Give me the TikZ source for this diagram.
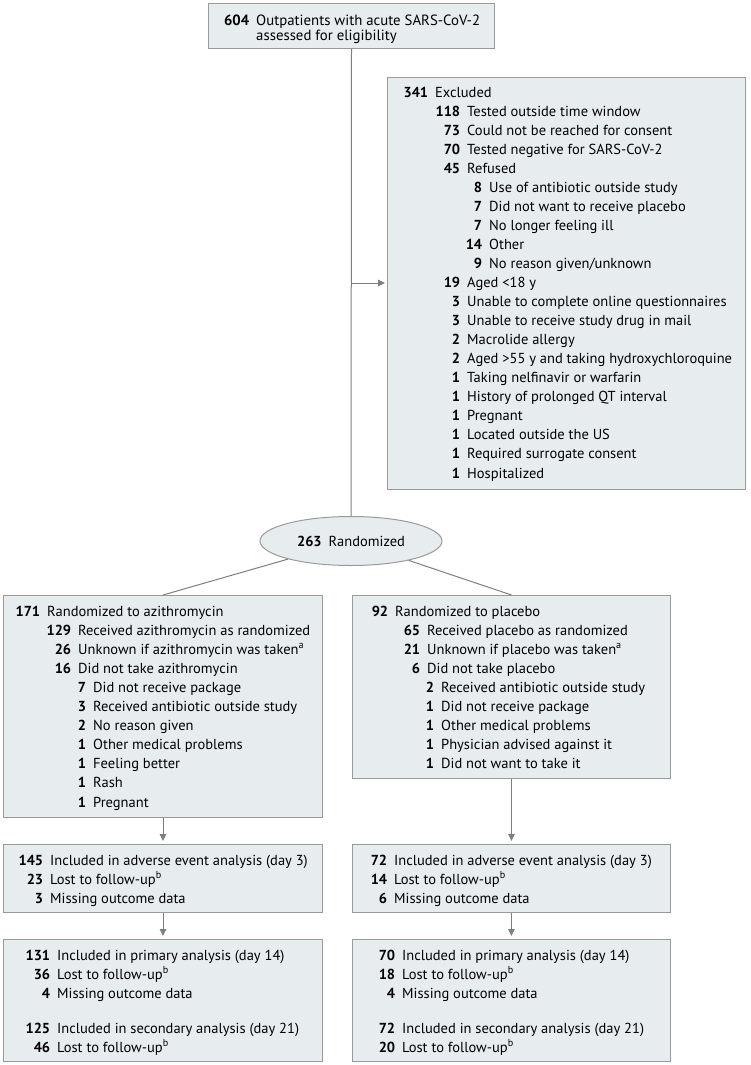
\documentclass[tikz,border=0pt]{standalone}
\usepackage{fontspec}
\setmainfont{PT Sans}
\usetikzlibrary{shapes.geometric,arrows.meta}
\definecolor{boxfill}{HTML}{E7ECEE}
\definecolor{boxline}{HTML}{9A9A9A}
\definecolor{conncol}{HTML}{7F7F7F}
\newcommand\rowl[5]{\node[rowtxt] (#1) at (#2,#3) {\llap{\textbf{#4}\hspace{7pt}}#5};}
\newcommand\boxat[5]{\node[box, anchor=north west, minimum width={#4-#2}, minimum height={#5-#3}] (#1) at (#2,#3) {};}
\begin{document}
\begin{tikzpicture}[x=1pt,y=-1pt,
  box/.style={draw=boxline, fill=boxfill, line width=1pt, rectangle, inner sep=0pt},
  rowtxt/.style={anchor=base west, inner sep=0pt, font=\fontsize{14.5}{19}\selectfont},
  toptxt/.style={rowtxt, font=\fontsize{14.8}{19}\selectfont},
  conn/.style={draw=conncol, line width=1pt},
  arr/.style={conn, -{Triangle[length=7pt,width=6.5pt]}, shorten >=3pt}]
\useasboundingbox (0,0) rectangle (750,1065);

% boxes
\boxat{top}{208}{3}{494}{48}
\boxat{excl}{387}{77}{745}{489}
\boxat{az}{3}{595}{322}{817}
\boxat{pl}{352}{595}{670}{778}
\boxat{aeA}{3}{844}{322}{912}
\boxat{aeP}{352}{844}{670}{912}
\boxat{prA}{3}{939}{322}{1061}
\boxat{prP}{352}{939}{670}{1061}
\node[ellipse, draw=boxline, fill=boxfill, line width=1pt, minimum width=182, minimum height=49, inner sep=0pt,
      font=\fontsize{14.5}{19}\selectfont] (rand) at (351,541) {\textbf{263}\hspace{7pt}Randomized};

% connectors
\coordinate (junc) at (351,283);
\draw[conn] (top.south) -- (rand.north);
\draw[arr, shorten >=2pt] (junc) -- (junc -| excl.west);
\draw[conn] (rand) -- (az.north);
\draw[conn] (rand) -- (pl.north);
\draw[arr] (az.south) -- (aeA.north);
\draw[arr] (pl.south) -- (aeP.north);
\draw[arr] (aeA.south) -- (prA.north);
\draw[arr] (aeP.south) -- (prP.north);

% top text
\node[toptxt] (t1) at (256,25.5) {\llap{\textbf{604}\hspace{7pt}}Outpatients with acute SARS-CoV-2};
\node[toptxt] (t2) at (256,41) {assessed for eligibility};

% excluded
\rowl{e0}{435}{97}{341}{Excluded}
\rowl{e1}{467}{{97+19.05*1}}{118}{Tested outside time window}
\rowl{e2}{467}{{97+19.05*2}}{73}{Could not be reached for consent}
\rowl{e3}{467}{{97+19.05*3}}{70}{Tested negative for SARS-CoV-2}
\rowl{e4}{467}{{97+19.05*4}}{45}{Refused}
\rowl{e5}{489}{{97+19.05*5}}{8}{Use of antibiotic outside study}
\rowl{e6}{489}{{97+19.05*6}}{7}{Did not want to receive placebo}
\rowl{e7}{489}{{97+19.05*7}}{7}{No longer feeling ill}
\rowl{e8}{489}{{97+19.05*8}}{14}{Other}
\rowl{e9}{489}{{97+19.05*9}}{9}{No reason given/unknown}
\rowl{e10}{467}{{97+19.05*10}}{19}{Aged <18 y}
\rowl{e11}{467}{{97+19.05*11}}{3}{Unable to complete online questionnaires}
\rowl{e12}{467}{{97+19.05*12}}{3}{Unable to receive study drug in mail}
\rowl{e13}{467}{{97+19.05*13}}{2}{Macrolide allergy}
\rowl{e14}{467}{{97+19.05*14}}{2}{Aged >55 y and taking hydroxychloroquine}
\rowl{e15}{467}{{97+19.05*15}}{1}{Taking nelfinavir or warfarin}
\rowl{e16}{467}{{97+19.05*16}}{1}{History of prolonged QT interval}
\rowl{e17}{467}{{97+19.05*17}}{1}{Pregnant}
\rowl{e18}{467}{{97+19.05*18}}{1}{Located outside the US}
\rowl{e19}{467}{{97+19.05*19}}{1}{Required surrogate consent}
\rowl{e20}{467}{{97+19.05*20}}{1}{Hospitalized}

% azithromycin
\rowl{a0}{47}{616}{171}{Randomized to azithromycin}
\rowl{a1}{78}{{616+19.1*1}}{129}{Received azithromycin as randomized}
\rowl{a2}{78}{{616+19.1*2}}{26}{Unknown if azithromycin was taken\textsuperscript{a}}
\rowl{a3}{78}{{616+19.1*3}}{16}{Did not take azithromycin}
\rowl{a4}{93}{{616+19.1*4}}{7}{Did not receive package}
\rowl{a5}{93}{{616+19.1*5}}{3}{Received antibiotic outside study}
\rowl{a6}{93}{{616+19.1*6}}{2}{No reason given}
\rowl{a7}{93}{{616+19.1*7}}{1}{Other medical problems}
\rowl{a8}{93}{{616+19.1*8}}{1}{Feeling better}
\rowl{a9}{93}{{616+19.1*9}}{1}{Rash}
\rowl{a10}{93}{{616+19.1*10}}{1}{Pregnant}

% placebo
\rowl{p0}{395}{616}{92}{Randomized to placebo}
\rowl{p1}{427}{{616+19.1*1}}{65}{Received placebo as randomized}
\rowl{p2}{427}{{616+19.1*2}}{21}{Unknown if placebo was taken\textsuperscript{a}}
\rowl{p3}{427}{{616+19.1*3}}{6}{Did not take placebo}
\rowl{p4}{441}{{616+19.1*4}}{2}{Received antibiotic outside study}
\rowl{p5}{441}{{616+19.1*5}}{1}{Did not receive package}
\rowl{p6}{441}{{616+19.1*6}}{1}{Other medical problems}
\rowl{p7}{441}{{616+19.1*7}}{1}{Physician advised against it}
\rowl{p8}{441}{{616+19.1*8}}{1}{Did not want to take it}

% adverse event
\rowl{b0}{50}{865}{145}{Included in adverse event analysis (day 3)}
\rowl{b1}{50}{884}{23}{Lost to follow-up\textsuperscript{b}}
\rowl{b2}{50}{903}{3}{Missing outcome data}
\rowl{c0}{394}{865}{72}{Included in adverse event analysis (day 3)}
\rowl{c1}{394}{884}{14}{Lost to follow-up\textsuperscript{b}}
\rowl{c2}{394}{903}{6}{Missing outcome data}

% primary / secondary
\rowl{d0}{57}{960}{131}{Included in primary analysis (day 14)}
\rowl{d1}{57}{979}{36}{Lost to follow-up\textsuperscript{b}}
\rowl{d2}{57}{998}{4}{Missing outcome data}
\rowl{d3}{57}{1033}{125}{Included in secondary analysis (day 21)}
\rowl{d4}{57}{1052}{46}{Lost to follow-up\textsuperscript{b}}
\rowl{f0}{402}{960}{70}{Included in primary analysis (day 14)}
\rowl{f1}{402}{979}{18}{Lost to follow-up\textsuperscript{b}}
\rowl{f2}{402}{998}{4}{Missing outcome data}
\rowl{f3}{402}{1033}{72}{Included in secondary analysis (day 21)}
\rowl{f4}{402}{1052}{20}{Lost to follow-up\textsuperscript{b}}
\end{tikzpicture}
\end{document}
